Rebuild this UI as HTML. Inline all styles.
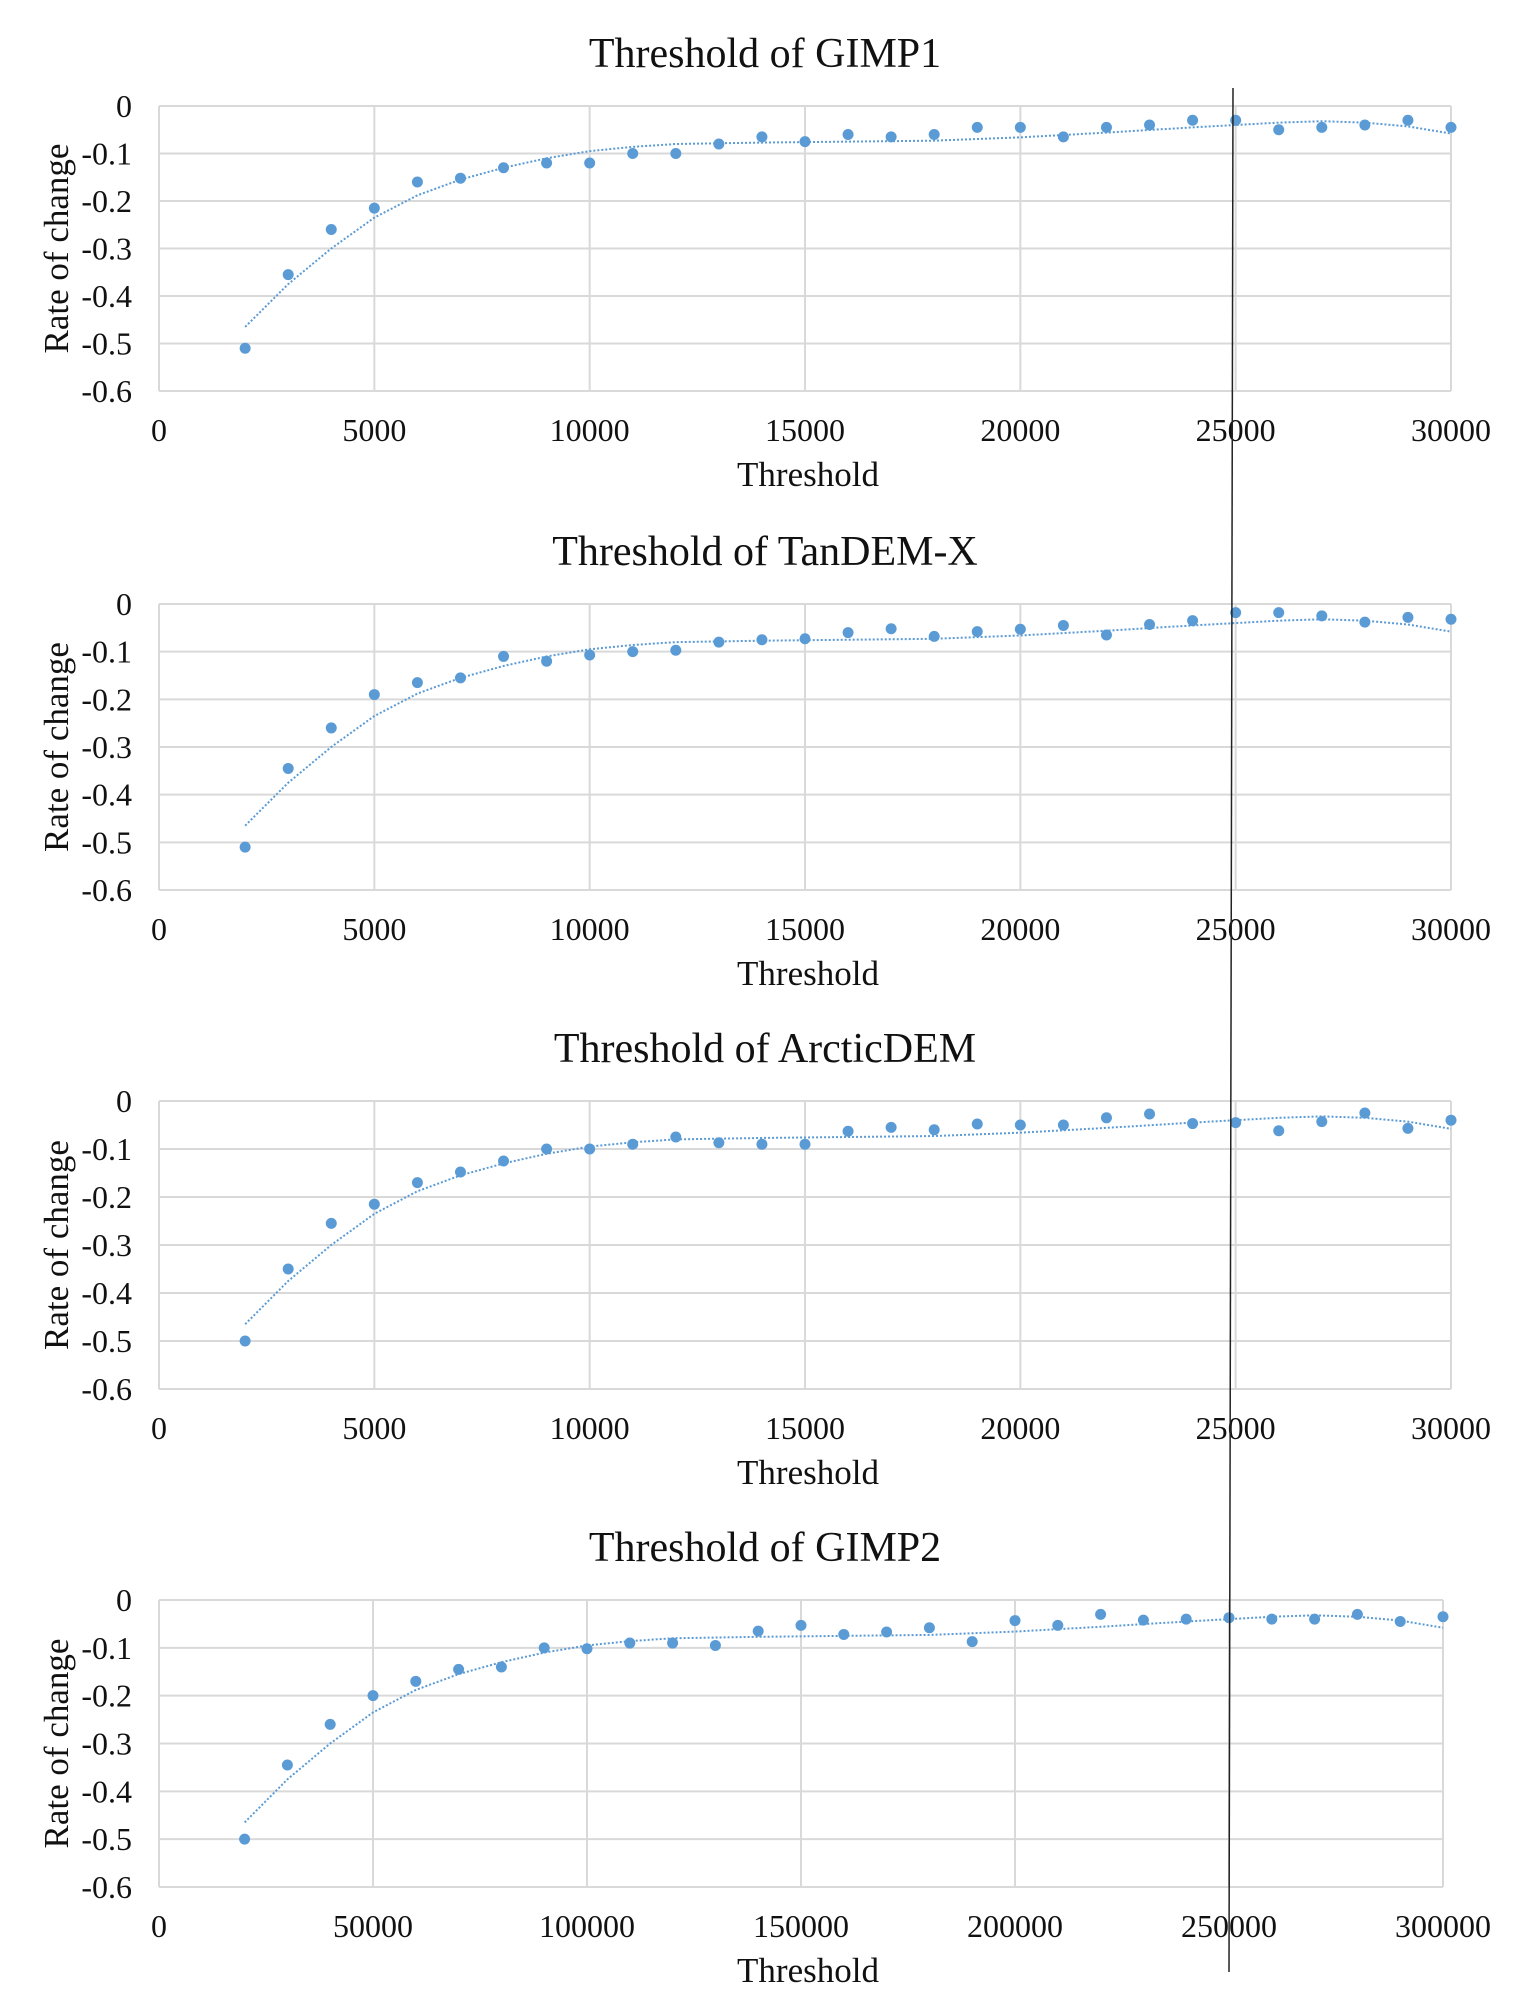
<!DOCTYPE html>
<html><head><meta charset="utf-8"><style>
html,body{margin:0;padding:0;background:#fff;}
svg{display:block;}
text{font-family:"Liberation Serif",serif;fill:#111;}
</style></head><body>
<svg id="s" width="1533" height="2013" viewBox="0 0 1533 2013" xmlns="http://www.w3.org/2000/svg"></svg>
<script>
const S=document.getElementById('s');
let h='';
const charts=[
{title:'Threshold of GIMP1',top:106,bot:391,right:1451,xmax:30000,step:5000,x0:2000,dx:1000,
 d:[-0.51,-0.355,-0.26,-0.215,-0.16,-0.152,-0.13,-0.12,-0.12,-0.1,-0.1,-0.08,-0.065,-0.075,-0.06,-0.065,-0.06,-0.045,-0.045,-0.065,-0.045,-0.04,-0.03,-0.03,-0.05,-0.045,-0.04,-0.03,-0.045]},
{title:'Threshold of TanDEM-X',top:604,bot:890,right:1451,xmax:30000,step:5000,x0:2000,dx:1000,
 d:[-0.51,-0.345,-0.26,-0.19,-0.165,-0.155,-0.11,-0.12,-0.107,-0.1,-0.097,-0.08,-0.075,-0.073,-0.06,-0.052,-0.068,-0.058,-0.053,-0.045,-0.065,-0.043,-0.035,-0.018,-0.018,-0.025,-0.038,-0.028,-0.032]},
{title:'Threshold of ArcticDEM',top:1101,bot:1389,right:1451,xmax:30000,step:5000,x0:2000,dx:1000,
 d:[-0.5,-0.35,-0.255,-0.215,-0.17,-0.148,-0.125,-0.1,-0.1,-0.09,-0.075,-0.087,-0.09,-0.09,-0.063,-0.055,-0.06,-0.048,-0.05,-0.05,-0.035,-0.027,-0.047,-0.045,-0.062,-0.043,-0.025,-0.057,-0.04]},
{title:'Threshold of GIMP2',top:1600,bot:1887,right:1443,xmax:300000,step:50000,x0:20000,dx:10000,
 d:[-0.5,-0.345,-0.26,-0.2,-0.17,-0.145,-0.14,-0.1,-0.102,-0.09,-0.09,-0.095,-0.065,-0.053,-0.072,-0.067,-0.058,-0.087,-0.043,-0.053,-0.03,-0.042,-0.04,-0.037,-0.04,-0.04,-0.03,-0.045,-0.035]}
];
const tr=[[0.0667,-0.465],[0.1,-0.375],[0.1333,-0.3],[0.1667,-0.235],[0.2,-0.188],[0.2333,-0.155],[0.2667,-0.13],[0.3,-0.11],[0.3333,-0.095],[0.3667,-0.086],[0.4,-0.08],[0.4667,-0.077],[0.5333,-0.075],[0.6,-0.073],[0.6667,-0.066],[0.7333,-0.056],[0.8,-0.045],[0.8667,-0.035],[0.9,-0.032],[0.9333,-0.035],[0.9667,-0.043],[1,-0.058]];
charts.forEach(c=>{
 const L=159,R=c.right,T=c.top,B=c.bot;
 const X=v=>L+(R-L)*v/c.xmax, Y=v=>T+(B-T)*(-v)/0.6;
 h+=`<text x="765" y="${T-39}" font-size="42" text-anchor="middle">${c.title}</text>`;
 for(let i=0;i<=6;i++){const y=T+(B-T)*i/6;
  h+=`<line x1="${L}" y1="${y}" x2="${R}" y2="${y}" stroke="#d9d9d9" stroke-width="2"/>`;
  h+=`<text x="132" y="${y+11}" font-size="32" text-anchor="end">${i==0?'0':'-0.'+i}</text>`;}
 for(let v=0;v<=c.xmax;v+=c.step){const x=X(v);
  h+=`<line x1="${x}" y1="${T}" x2="${x}" y2="${B}" stroke="#d9d9d9" stroke-width="2"/>`;
  h+=`<text x="${x}" y="${B+50}" font-size="32" text-anchor="middle">${v}</text>`;}
 h+=`<text x="808" y="${B+95}" font-size="35" text-anchor="middle">Threshold</text>`;
 h+=`<text transform="translate(68 ${(T+B)/2}) rotate(-90)" font-size="35" text-anchor="middle">Rate of change</text>`;
 h+=`<polyline fill="none" stroke="#5b9bd5" stroke-width="2" stroke-dasharray="2 2" points="${tr.map(p=>X(p[0]*c.xmax)+','+Y(p[1])).join(' ')}"/>`;
 c.d.forEach((v,i)=>{h+=`<circle cx="${X(c.x0+i*c.dx)}" cy="${Y(v)}" r="5.5" fill="#5b9bd5"/>`;});
});
h+=`<line x1="1233" y1="88" x2="1229" y2="1972" stroke="#222" stroke-width="1.5"/>`;
S.innerHTML=h;
</script>
</body></html>
